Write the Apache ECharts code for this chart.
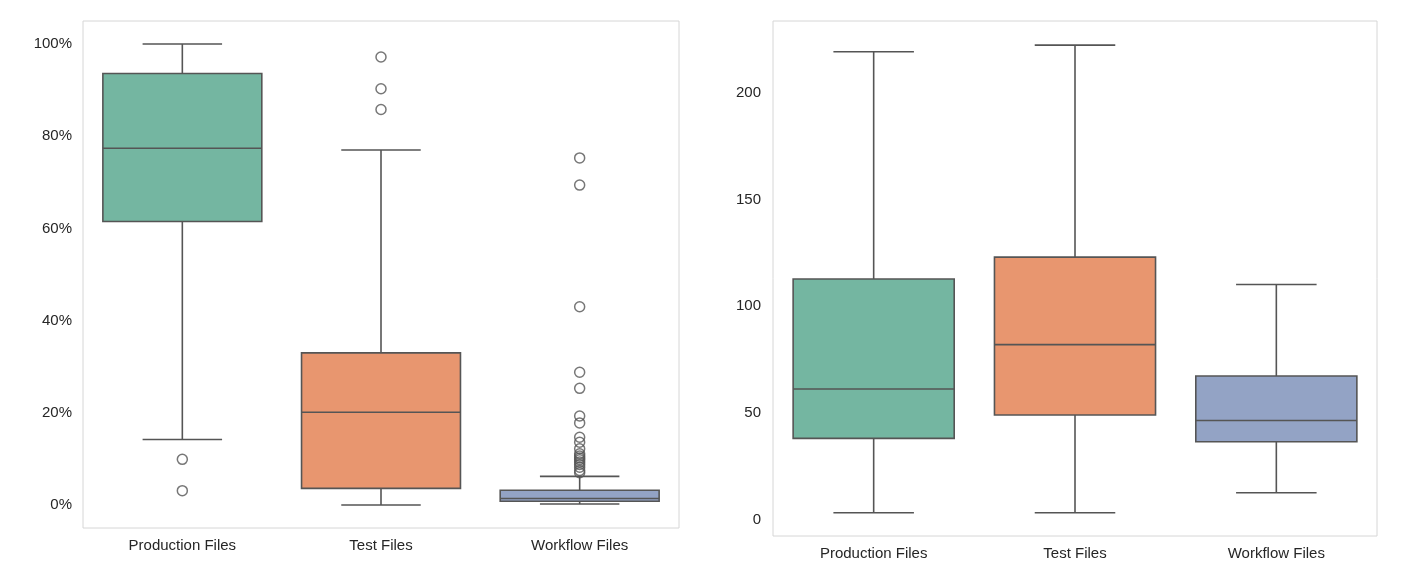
<!DOCTYPE html>
<html>
<head>
<meta charset="utf-8">
<script src="https://cdn.jsdelivr.net/npm/echarts@6/dist/echarts.min.js"></script>
<style>
  html, body { margin: 0; padding: 0; background: #ffffff; }
  #chart { width: 1414px; height: 572px; }
</style>
</head>
<body>
<div id="chart"></div>
<script>
// categories shared by both panels
var categories = ['Production Files', 'Test Files', 'Workflow Files'];
var boxColors = ['#74b6a1', '#e8966f', '#93a3c5'];

// left panel: share of files (%), [whiskerLow, q1, median, q3, whiskerHigh]
var shareStats = [
  [14.2, 61.5, 77.4, 93.6, 100],
  [0, 3.6, 20.1, 33.0, 77.0],
  [0.2, 0.8, 1.4, 3.2, 6.2]
];
var shareOutliers = [
  [9.9, 3.1],
  [97.2, 90.3, 85.8],
  [75.3, 69.4, 43.0, 28.8, 25.3, 19.3, 17.8, 14.7, 13.6, 12.2, 11.1, 10.6, 10.2, 9.8, 9.3, 8.8, 8.2, 7.5, 7.0]
];

// right panel: counts, [whiskerLow, q1, median, q3, whiskerHigh]
var countStats = [
  [3.1, 38.0, 61.2, 112.8, 219.5],
  [3.1, 49.0, 82.0, 123.1, 222.6],
  [12.5, 36.4, 46.4, 67.3, 110.2]
];
var countOutliers = [[], [], []];

var lineColor = '#555555';

function boxData(stats) {
  return stats.map(function (s, i) {
    return [i, s[0], s[1], s[2], s[3], s[4]];
  });
}

function outlierData(list) {
  var out = [];
  list.forEach(function (vals, i) {
    vals.forEach(function (v) { out.push([i, v]); });
  });
  return out;
}

// seaborn style box: box 80% of band, caps half the box width
function renderBox(params, api) {
  var idx = api.value(0);
  var band = api.size([1, 0])[0];
  var halfBox = band * 0.4;
  var halfCap = band * 0.2;
  var pLow = api.coord([idx, api.value(1)]);
  var pQ1 = api.coord([idx, api.value(2)]);
  var pMed = api.coord([idx, api.value(3)]);
  var pQ3 = api.coord([idx, api.value(4)]);
  var pHigh = api.coord([idx, api.value(5)]);
  var cx = pMed[0];
  var stroke = { stroke: lineColor, lineWidth: 1.6 };
  return {
    type: 'group',
    children: [
      { type: 'line', shape: { x1: cx, y1: pQ1[1], x2: cx, y2: pLow[1] }, style: stroke },
      { type: 'line', shape: { x1: cx, y1: pQ3[1], x2: cx, y2: pHigh[1] }, style: stroke },
      { type: 'line', shape: { x1: cx - halfCap, y1: pLow[1], x2: cx + halfCap, y2: pLow[1] }, style: stroke },
      { type: 'line', shape: { x1: cx - halfCap, y1: pHigh[1], x2: cx + halfCap, y2: pHigh[1] }, style: stroke },
      {
        type: 'rect',
        shape: { x: cx - halfBox, y: pQ3[1], width: halfBox * 2, height: pQ1[1] - pQ3[1] },
        style: { fill: boxColors[idx], stroke: lineColor, lineWidth: 1.6 }
      },
      { type: 'line', shape: { x1: cx - halfBox, y1: pMed[1], x2: cx + halfBox, y2: pMed[1] }, style: stroke }
    ]
  };
}

var labelStyle = { color: '#262626', fontSize: 15, fontFamily: 'Liberation Sans, Arial, sans-serif' };

function xAxisFor(gridIndex) {
  return {
    type: 'category',
    gridIndex: gridIndex,
    data: categories,
    boundaryGap: true,
    axisLine: { show: false },
    axisTick: { show: false },
    splitLine: { show: false },
    axisLabel: Object.assign({ margin: 10 }, labelStyle)
  };
}

var chart = echarts.init(document.getElementById('chart'));
chart.setOption({
  backgroundColor: '#ffffff',
  animation: false,
  grid: [
    { left: 83, top: 21, width: 596, height: 507, show: true, borderColor: '#d6d6d6', borderWidth: 1, containLabel: false },
    { left: 773, top: 21, width: 604, height: 515, show: true, borderColor: '#d6d6d6', borderWidth: 1, containLabel: false }
  ],
  xAxis: [xAxisFor(0), xAxisFor(1)],
  yAxis: [
    {
      type: 'value',
      gridIndex: 0,
      min: -5,
      max: 105,
      axisLine: { show: false },
      axisTick: { show: false },
      splitLine: { show: false },
      axisLabel: Object.assign({
        margin: 11,
        showMinLabel: false,
        showMaxLabel: false,
        formatter: function (v) { return v + '%'; }
      }, labelStyle)
    },
    {
      type: 'value',
      gridIndex: 1,
      min: -7.8,
      max: 233.9,
      axisLine: { show: false },
      axisTick: { show: false },
      splitLine: { show: false },
      axisLabel: Object.assign({
        margin: 12,
        showMinLabel: false,
        showMaxLabel: false
      }, labelStyle)
    }
  ],
  series: [
    {
      type: 'custom',
      xAxisIndex: 0,
      yAxisIndex: 0,
      renderItem: renderBox,
      encode: { x: 0, y: [1, 2, 3, 4, 5] },
      data: boxData(shareStats)
    },
    {
      type: 'scatter',
      xAxisIndex: 0,
      yAxisIndex: 0,
      symbol: 'circle',
      symbolSize: 10,
      itemStyle: { color: 'rgba(0,0,0,0)', borderColor: lineColor, borderWidth: 1.5 },
      data: outlierData(shareOutliers)
    },
    {
      type: 'custom',
      xAxisIndex: 1,
      yAxisIndex: 1,
      renderItem: renderBox,
      encode: { x: 0, y: [1, 2, 3, 4, 5] },
      data: boxData(countStats)
    },
    {
      type: 'scatter',
      xAxisIndex: 1,
      yAxisIndex: 1,
      symbol: 'circle',
      symbolSize: 10,
      itemStyle: { color: 'rgba(0,0,0,0)', borderColor: lineColor, borderWidth: 1.5 },
      data: outlierData(countOutliers)
    }
  ]
});
</script>
</body>
</html>
